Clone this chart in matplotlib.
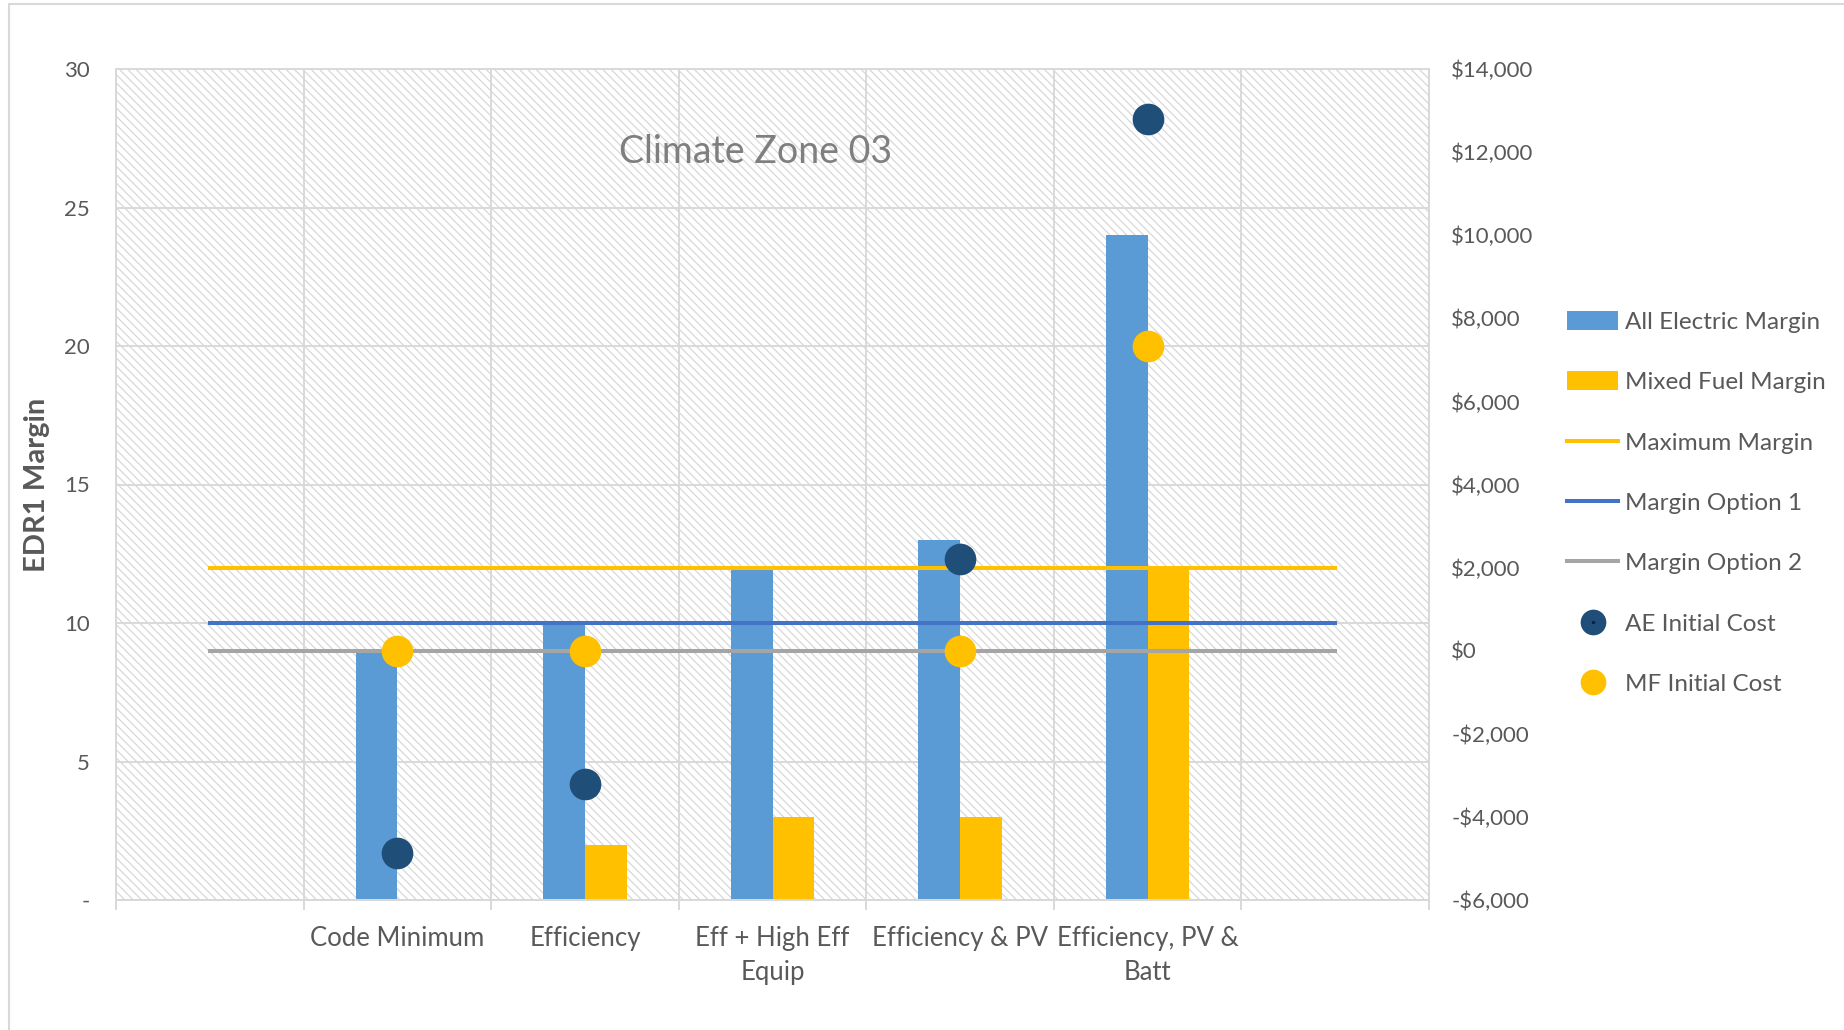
import matplotlib
matplotlib.use("Agg")
import matplotlib.pyplot as plt
from matplotlib.patches import Rectangle
from matplotlib.lines import Line2D
from matplotlib.legend_handler import HandlerTuple
from matplotlib.ticker import FixedLocator, FuncFormatter
import numpy as np

plt.rcParams['font.family'] = ['Lato', 'DejaVu Sans']
plt.rcParams['hatch.linewidth'] = 0.85

# ---- data ----
categories = ["", "Code Minimum", "Efficiency", "Eff + High Eff\nEquip",
              "Efficiency & PV", "Efficiency, PV &\nBatt", ""]
all_electric_margin = [None, 9, 10, 12, 13, 24, None]
mixed_fuel_margin = [None, 0, 2, 3, 3, 12, None]
maximum_margin = [12, 12, 12, 12, 12, 12, 12]
margin_option_1 = [10, 10, 10, 10, 10, 10, 10]
margin_option_2 = [9, 9, 9, 9, 9, 9, 9]
ae_initial_cost = [None, -4875, -3200, None, 2200, 12800, None]
mf_initial_cost = [None, 0, 0, None, 0, 7330, None]
left_ticks = [0, 5, 10, 15, 20, 25, 30]
right_ticks = list(range(-6000, 14001, 2000))

# ---- styling ----
TXT = '#595959'
GRID = '#D9D9D9'
C_AE = '#5B9BD5'
C_MF = '#FFC000'
C_MAX = '#FFC000'
C_OPT1 = '#4472C4'
C_OPT2 = '#A5A5A5'
C_AE_COST = '#1F4E79'

W, H = 1844, 1030
fig = plt.figure(figsize=(W / 100, H / 100), dpi=100)

# outer chart border
fig.add_artist(Rectangle((9 / W, -0.1), 1.2, 1 - 4 / H + 0.1, transform=fig.transFigure,
                         facecolor='none', edgecolor=GRID, lw=1.5))

ax = fig.add_axes([116 / W, 1 - 900 / H, (1429 - 116) / W, (900 - 69) / H])
ax.patch.set_alpha(0)

x = np.arange(len(categories))
ax.set_xlim(-0.5, len(categories) - 0.5)
ax.set_ylim(0, 30)

# hatched plot area background
ax.add_patch(Rectangle((0, 0), 1, 1, transform=ax.transAxes, facecolor='white',
                       edgecolor='#D6D6D6', hatch='\\\\\\\\', lw=0, zorder=0))

# grid
ax.yaxis.set_major_locator(FixedLocator(left_ticks))
ax.yaxis.set_major_formatter(FuncFormatter(lambda v, p: '-' if v == 0 else f'{v:g}'))
ax.set_xticks(x)
ax.set_xticklabels(categories, linespacing=1.45)
ax.xaxis.set_minor_locator(FixedLocator(np.arange(-0.5, len(categories), 1.0)))
ax.grid(axis='y', which='major', color=GRID, lw=1.4, zorder=1)
ax.grid(axis='x', which='minor', color=GRID, lw=1.4, zorder=1)
ax.set_axisbelow(True)

ax.tick_params(axis='x', which='major', length=0, pad=19, labelsize=18.5, labelcolor=TXT)
ax.tick_params(axis='x', which='minor', length=7, width=1.4, color=GRID)
ax.tick_params(axis='y', length=0, pad=19, labelsize=16, labelcolor=TXT)
for s in ax.spines.values():
    s.set_color(GRID)
    s.set_linewidth(1.4)

bw = 0.222
ae_vals = np.array([np.nan if v is None else v for v in all_electric_margin], float)
mf_vals = np.array([np.nan if v is None else v for v in mixed_fuel_margin], float)
ax.bar(x - bw / 2, ae_vals, width=bw, color=C_AE, zorder=2, label='All Electric Margin')
ax.bar(x + bw / 2, mf_vals, width=bw, color=C_MF, zorder=2, label='Mixed Fuel Margin')

l_max, = ax.plot(x, maximum_margin, color=C_MAX, lw=2.9, zorder=3, label='Maximum Margin')
l_o1, = ax.plot(x, margin_option_1, color=C_OPT1, lw=2.9, zorder=3, label='Margin Option 1')
l_o2, = ax.plot(x, margin_option_2, color=C_OPT2, lw=2.9, zorder=3, label='Margin Option 2')

ax.set_ylabel('EDR1 Margin', fontsize=21, fontweight='bold', color=TXT)
ax.yaxis.set_label_coords(-0.0505, 0.5)

ax.text(0.487, 0.900, 'Climate Zone 03', transform=ax.transAxes, ha='center', va='center',
        fontsize=27, color='#7F7F7F')

# secondary axis: initial cost
ax2 = ax.twinx()
ax2.set_ylim(-6000, 14000)
ax2.yaxis.set_major_locator(FixedLocator(right_ticks))
ax2.yaxis.set_major_formatter(FuncFormatter(
    lambda v, p: f'-${abs(v):,.0f}' if v < 0 else f'${v:,.0f}'))
ax2.tick_params(axis='y', length=0, pad=16, labelsize=16, labelcolor=TXT)
for s in ax2.spines.values():
    s.set_color(GRID)
    s.set_linewidth(1.4)

ae_c = np.array([np.nan if v is None else v for v in ae_initial_cost], float)
mf_c = np.array([np.nan if v is None else v for v in mf_initial_cost], float)
m_ae, = ax2.plot(x, ae_c, 'o', ms=22.8, color=C_AE_COST, mec='none', zorder=4,
                 label='AE Initial Cost')
m_mf, = ax2.plot(x, mf_c, 'o', ms=22.8, color=C_MF, mec='none', zorder=4,
                 label='MF Initial Cost')

# legend
h_bars, lab_bars = ax.get_legend_handles_labels()
ae_leg = (Line2D([], [], marker='o', ms=18.5, color=C_AE_COST, mec='none', ls='none'),
          Line2D([], [], marker='o', ms=2.5, color='#0B1F4A', mec='none', ls='none'))
mf_leg = Line2D([], [], marker='o', ms=18.5, color=C_MF, mec='none', ls='none')
handles = [h_bars[3], h_bars[4], l_max, l_o1, l_o2, ae_leg, mf_leg]
labels = ['All Electric Margin', 'Mixed Fuel Margin', 'Maximum Margin',
          'Margin Option 1', 'Margin Option 2', 'AE Initial Cost', 'MF Initial Cost']
leg = fig.legend(handles, labels, loc='upper left', bbox_to_anchor=(1567 / W, 1 - 311 / H),
                 frameon=False, fontsize=17.5, labelcolor=TXT, handlelength=2.1,
                 handleheight=0.8, handletextpad=0.3, labelspacing=1.59,
                 borderaxespad=0, borderpad=0,
                 handler_map={tuple: HandlerTuple(ndivide=1, pad=0)})

fig.savefig('out.png', dpi=100, facecolor='white')
